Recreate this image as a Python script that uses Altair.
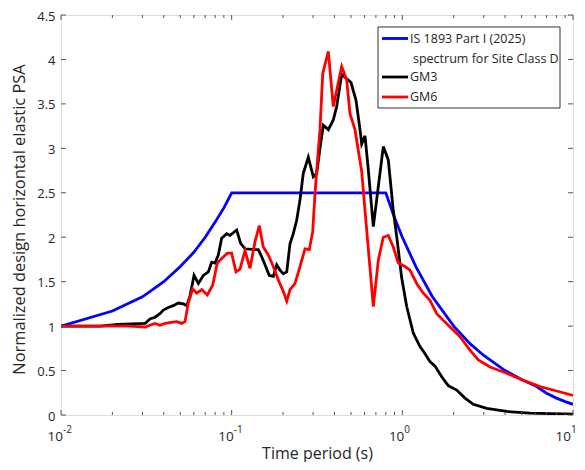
import altair as alt
import pandas as pd

FONT = "Open Sans"
TXT = "#262626"
AX = "#555555"

# ---------------- data ----------------
is_period = [0.01, 0.02, 0.03, 0.04, 0.05, 0.06, 0.07, 0.08, 0.09, 0.10, 0.80, 0.90, 1.0,
             1.2, 1.5, 2.0, 2.5, 3.0, 4.0, 5.0, 6.0, 7.0, 8.0, 9.0, 10.0]
is_psa = [1.00, 1.17, 1.33, 1.50, 1.67, 1.83, 2.00, 2.17, 2.33, 2.50, 2.50, 2.22, 2.00,
          1.67, 1.33, 1.00, 0.80, 0.67, 0.50, 0.40, 0.33, 0.245, 0.19, 0.15, 0.12]

gm3_period = [0.0100, 0.0169, 0.0216, 0.0311, 0.0332, 0.0355, 0.0380, 0.0398, 0.0425, 0.0455,
              0.0487, 0.0521, 0.0545, 0.0570, 0.0602, 0.0638, 0.0682, 0.0730, 0.0764, 0.0799,
              0.0835, 0.0874, 0.0935, 0.0978, 0.1022, 0.1070, 0.1129, 0.1197, 0.1370, 0.1432,
              0.150, 0.1568, 0.1662, 0.1754, 0.1836, 0.1920, 0.2007, 0.2102, 0.2198, 0.2297,
              0.2404, 0.2514, 0.2628, 0.2812, 0.3008, 0.3150, 0.3293, 0.3443, 0.3684, 0.3940,
              0.4124, 0.4413, 0.4614, 0.5004, 0.5353, 0.5649, 0.5780, 0.6043, 0.6318, 0.6761,
              0.7733, 0.8274, 0.8851, 0.9266, 0.9915, 1.0607, 1.160, 1.269, 1.358, 1.452,
              1.554, 1.701, 1.859, 2.082, 2.329, 2.605, 3.121, 4.088, 5.598, 10.0]
gm3_psa = [1.00, 1.00, 1.02, 1.03, 1.08, 1.10, 1.14, 1.18, 1.21, 1.23,
           1.26, 1.25, 1.23, 1.34, 1.57, 1.48, 1.57, 1.61, 1.72, 1.71,
           1.80, 1.99, 2.04, 2.02, 2.05, 2.08, 1.93, 1.87, 1.86, 1.86,
           1.78, 1.69, 1.57, 1.56, 1.69, 1.63, 1.59, 1.61, 1.93, 2.04,
           2.19, 2.42, 2.72, 2.90, 2.68, 2.72, 3.00, 3.26, 3.21, 3.32,
           3.47, 3.83, 3.80, 3.74, 3.54, 3.21, 3.05, 3.14, 2.76, 2.12,
           3.02, 2.87, 2.30, 2.01, 1.54, 1.22, 0.92, 0.77, 0.69, 0.60,
           0.55, 0.43, 0.33, 0.28, 0.19, 0.12, 0.075, 0.04, 0.02, 0.01]

gm6_period = [0.0100, 0.0169, 0.0254, 0.0311, 0.0332, 0.0355, 0.0380, 0.0407, 0.0435, 0.0476,
              0.0510, 0.0533, 0.0557, 0.0591, 0.0624, 0.0668, 0.0720, 0.0774, 0.0824, 0.0874,
              0.0943, 0.1000, 0.1060, 0.1119, 0.1197, 0.1281, 0.1370, 0.1452, 0.1532, 0.1639,
              0.1754, 0.1876, 0.2007, 0.2102, 0.2198, 0.2350, 0.2514, 0.2690, 0.2850, 0.2984,
              0.3078, 0.3218, 0.3293, 0.3416, 0.3684, 0.3940, 0.4413, 0.4720, 0.4935, 0.5279,
              0.5780, 0.6183, 0.6761, 0.7231, 0.7733, 0.8274, 0.8851, 0.9469, 1.0366, 1.109,
              1.213, 1.327, 1.452, 1.590, 1.902, 2.177, 2.491, 2.787, 3.264, 4.088,
              5.114, 6.406, 8.024, 10.0]
gm6_psa = [1.00, 1.00, 1.00, 0.99, 1.01, 1.03, 1.01, 1.03, 1.04, 1.05,
           1.03, 1.05, 1.26, 1.42, 1.37, 1.41, 1.35, 1.46, 1.71, 1.76,
           1.82, 1.82, 1.61, 1.64, 1.85, 1.65, 1.95, 2.13, 1.89, 1.80,
           1.67, 1.52, 1.39, 1.28, 1.41, 1.48, 1.67, 1.87, 1.86, 2.06,
           2.49, 2.98, 3.21, 3.84, 4.09, 3.47, 3.92, 3.77, 3.39, 3.21,
           2.74, 2.08, 1.22, 1.74, 2.00, 2.02, 1.89, 1.71, 1.67, 1.63,
           1.48, 1.37, 1.29, 1.14, 0.99, 0.88, 0.73, 0.62, 0.54, 0.47,
           0.39, 0.32, 0.27, 0.22]

x_major = [0.01, 0.1, 1]
x_exponents = ["-2", "-1", "0"]
x_last = [10]
x_last_exp = ["1"]
x_minor = [0.02, 0.03, 0.04, 0.05, 0.06, 0.07, 0.08, 0.09,
           0.2, 0.3, 0.4, 0.5, 0.6, 0.7, 0.8, 0.9,
           2, 3, 4, 5, 6, 7, 8, 9]
y_ticks = [0, 0.5, 1, 1.5, 2, 2.5, 3, 3.5, 4, 4.5]

legend_labels = ["IS 1893 Part I (2025)", "spectrum for Site Class D", "GM3", "GM6"]
colors = ["#0000ff", "#000000", "#ff0000"]

W, H = 512, 400

xscale = alt.Scale(type="log", domain=[0.01, 10])
yscale = alt.Scale(domain=[0, 4.5], nice=False, zero=False)

x_axis = alt.Axis(title="Time period (s)", labels=False, ticks=False, tickSize=0, domain=False,
                  grid=False, titleFont=FONT, titleFontSize=16, titleFontWeight="normal",
                  titleColor=TXT, titleY=38, titleBaseline="middle")
y_axis = alt.Axis(title="Normalized design horizontal elastic PSA", values=y_ticks, format="~g",
                  ticks=False, tickSize=0, domain=False, grid=False, labelPadding=6,
                  labelFont=FONT, labelFontSize=13, labelColor=TXT, labelOffset=1,
                  titleFont=FONT, titleFontSize=16.4, titleFontWeight="normal", titleColor=TXT,
                  titleX=-41.5, titleY=204, titleBaseline="middle")


def X(field):
    return alt.X(field, type="quantitative", scale=xscale, axis=x_axis)


def Y(field):
    return alt.Y(field, type="quantitative", scale=yscale, axis=y_axis)


def line_layer(periods, values, color):
    df = pd.DataFrame({"period": periods, "psa": values, "idx": list(range(len(periods)))})
    return alt.Chart(df).mark_line(color=color, strokeWidth=2.8, clip=True).encode(
        x=X("period"), y=Y("psa"), order="idx:Q")


lines = [
    line_layer(is_period, is_psa, colors[0]),
    line_layer(gm3_period, gm3_psa, colors[1]),
    line_layer(gm6_period, gm6_psa, colors[2]),
]

# ---------------- inward ticks (MATLAB box style) ----------------
xmaj = pd.DataFrame({"t": x_major, "e": x_exponents})
xlast = pd.DataFrame({"t": x_last, "e": x_last_exp})
xall = pd.DataFrame({"t": x_major + x_last})
xmin = pd.DataFrame({"t": x_minor})
ytk = pd.DataFrame({"v": y_ticks})


def xtick(df, y0, y1):
    return alt.Chart(df).mark_rule(color=AX, strokeWidth=1).encode(
        x=X("t"), y=alt.value(y0), y2=alt.value(y1))


def ytick(x0, x1):
    return alt.Chart(ytk).mark_rule(color=AX, strokeWidth=1).encode(
        y=Y("v"), x=alt.value(x0), x2=alt.value(x1))


ticks = [
    xtick(xall, H, H - 5), xtick(xall, 0, 5),
    xtick(xmin, H, H - 3), xtick(xmin, 0, 3),
    ytick(0, 5), ytick(W, W - 5),
]


# x tick labels with superscript exponents
def xlabels(df, shift):
    base = alt.Chart(df).mark_text(font=FONT, fontSize=13.5, color=TXT, align="right",
                                   baseline="middle", dx=shift).encode(
        x=X("t"), y=alt.value(H + 22), text=alt.value("10"))
    exp = alt.Chart(df).mark_text(font=FONT, fontSize=10, color=TXT, align="left",
                                  baseline="middle", dx=shift).encode(
        x=X("t"), y=alt.value(H + 15), text="e:N")
    return [base, exp]


labels = xlabels(xmaj, 2) + xlabels(xlast, -2)

# ---------------- legend ----------------
one = pd.DataFrame({"a": [0]})
leg_box = alt.Chart(one).mark_rect(fill="white", stroke="#333333", strokeWidth=1).encode(
    x=alt.value(317), x2=alt.value(499), y=alt.value(12), y2=alt.value(93))


def leg_line(y, color):
    return alt.Chart(one).mark_rule(color=color, strokeWidth=2.8).encode(
        x=alt.value(321), x2=alt.value(347), y=alt.value(y))


def leg_text(y, txt, x=349):
    return alt.Chart(one).mark_text(font=FONT, fontSize=12.5, color=TXT, align="left",
                                    baseline="middle").encode(
        x=alt.value(x), y=alt.value(y), text=alt.value(txt))


legend = [
    leg_box,
    leg_line(23.5, colors[0]), leg_text(23.5, legend_labels[0]),
    leg_text(43.5, legend_labels[1], x=352),
    leg_line(62, colors[1]), leg_text(62, legend_labels[2]),
    leg_line(82, colors[2]), leg_text(82, legend_labels[3]),
]

chart = alt.layer(*lines, *ticks, *labels, *legend).properties(
    width=W, height=H,
    padding={"left": 53, "top": 7, "right": 4, "bottom": 47},
    autosize=alt.AutoSizeParams(type="none"),
).configure_view(stroke=AX, strokeWidth=1).configure(background="white")

chart.save("out.html", embed_options={"renderer": "svg", "actions": False})
